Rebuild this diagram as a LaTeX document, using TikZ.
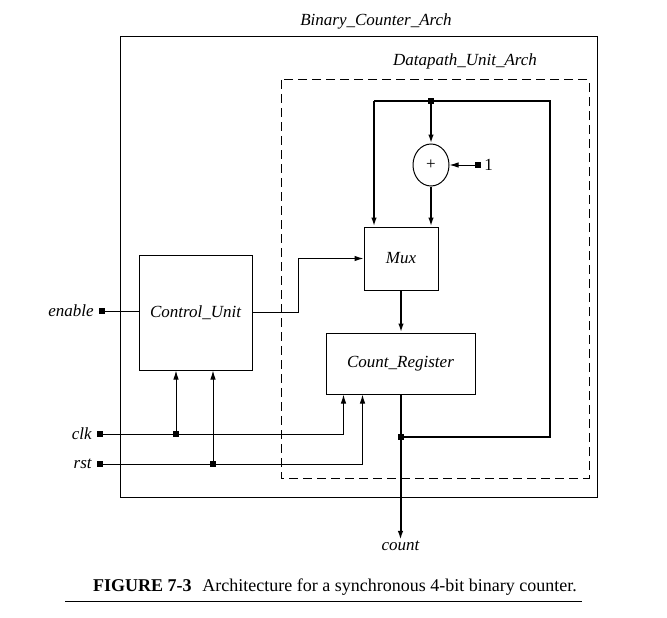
\documentclass[tikz,border=0pt]{standalone}
\usepackage{fontspec}
\setmainfont{Liberation Serif}
\usetikzlibrary{shapes.geometric,arrows.meta,positioning,calc}

\begin{document}
\begin{tikzpicture}[
  x=1pt, y=-1pt,
  font=\fontsize{17}{20}\selectfont,
  block/.style={rectangle, draw, line width=1pt, font=\fontsize{17}{20}\selectfont\itshape, inner sep=0pt},
  adder/.style={ellipse, draw, line width=1pt, minimum width=36pt, minimum height=42pt, inner sep=0pt},
  term/.style={rectangle, fill=black, minimum size=6pt, inner sep=0pt},
  junc/.style={rectangle, fill=black, minimum size=6pt, inner sep=0pt},
  sig/.style={font=\fontsize{17}{20}\selectfont\itshape, inner sep=1pt},
  arrow/.style={-{Latex[length=9pt,width=5.5pt]}},
  ctl/.style={line width=1pt},
  bus/.style={line width=2pt},
]
  \useasboundingbox (0,0) rectangle (667,618);

  % architecture frames
  \draw[line width=1pt] (120,37) rectangle (597,497);
  \node[sig] (bcarch) at (376,21) {Binary\_Counter\_Arch};
  \draw[line width=1pt, dash pattern=on 9pt off 5pt] (281,80) rectangle (589,478);
  \node[sig] (dparch) at (465,61) {Datapath\_Unit\_Arch};

  % blocks
  \node[block, minimum width=113pt, minimum height=115pt] (ctrl) at (195.5,312.5) {Control\_Unit};
  \node[block, minimum width=74pt, minimum height=63pt] (mux) at (401,258.5) {Mux};
  \node[block, minimum width=149pt, minimum height=61pt] (creg) at (400.5,363.5) {Count\_Register};
  \node[adder] (add) at (431,165) {+};

  % ports
  \node[term] (en) at (102,311) {};
  \node[sig, left=4pt of en] (enlbl) {enable};
  \node[term] (clk) at (100,434) {};
  \node[sig, left=4pt of clk] (clklbl) {clk};
  \node[term] (rst) at (100,464) {};
  \node[sig, left=4pt of rst] (rstlbl) {rst};
  \node[term] (one) at (478,165) {};
  \node[right=3pt of one, inner sep=0pt] (onelbl) {1};
  \node[sig] (count) at (400.5,546) {count};

  % feedback loop
  \node[junc] (jtop) at (431,101) {};
  \coordinate (tl) at (374,101);
  \coordinate (tr) at (550,101);
  \coordinate (br) at (550,437);
  \node[junc] (jbot) at (creg.south |- br) {};
  \draw[bus] (jbot) -- (br) -- (tr) -- (tl);
  \draw[bus, arrow] (tl) -- (tl |- mux.north);
  \draw[bus, arrow] (jtop) -- (add.north);
  \draw[bus, arrow] (add.south) -- (add.south |- mux.north);
  \draw[bus, arrow] (mux.south) -- (mux.south |- creg.north);
  \draw[bus] (creg.south) -- (jbot);
  \draw[bus, arrow] (jbot) -- (count.north);
  \draw[ctl, arrow] (one) -- (add.east);

  % control signals
  \draw[ctl] (en) -- (en -| ctrl.west);
  \draw[ctl, arrow] (ctrl.east) -- ++(46,0) |- (mux.west);
  \node[junc] (jclk) at (176,434) {};
  \node[junc] (jrst) at (213,464) {};
  \draw[ctl, arrow] (clk) -| ($(creg.south west)+(18,0)$);
  \draw[ctl, arrow] (rst) -| ($(creg.south west)+(37,0)$);
  \draw[ctl, arrow] (jclk) -- (jclk |- ctrl.south);
  \draw[ctl, arrow] (jrst) -- (jrst |- ctrl.south);

  % caption
  \node[font=\fontsize{18}{21}\selectfont] (caption) at (335,587) {\textbf{FIGURE 7-3}\hspace{0.6em}Architecture for a synchronous 4-bit binary counter.};
  \draw[line width=0.9pt] (65,601) -- (582,601);
\end{tikzpicture}
\end{document}
